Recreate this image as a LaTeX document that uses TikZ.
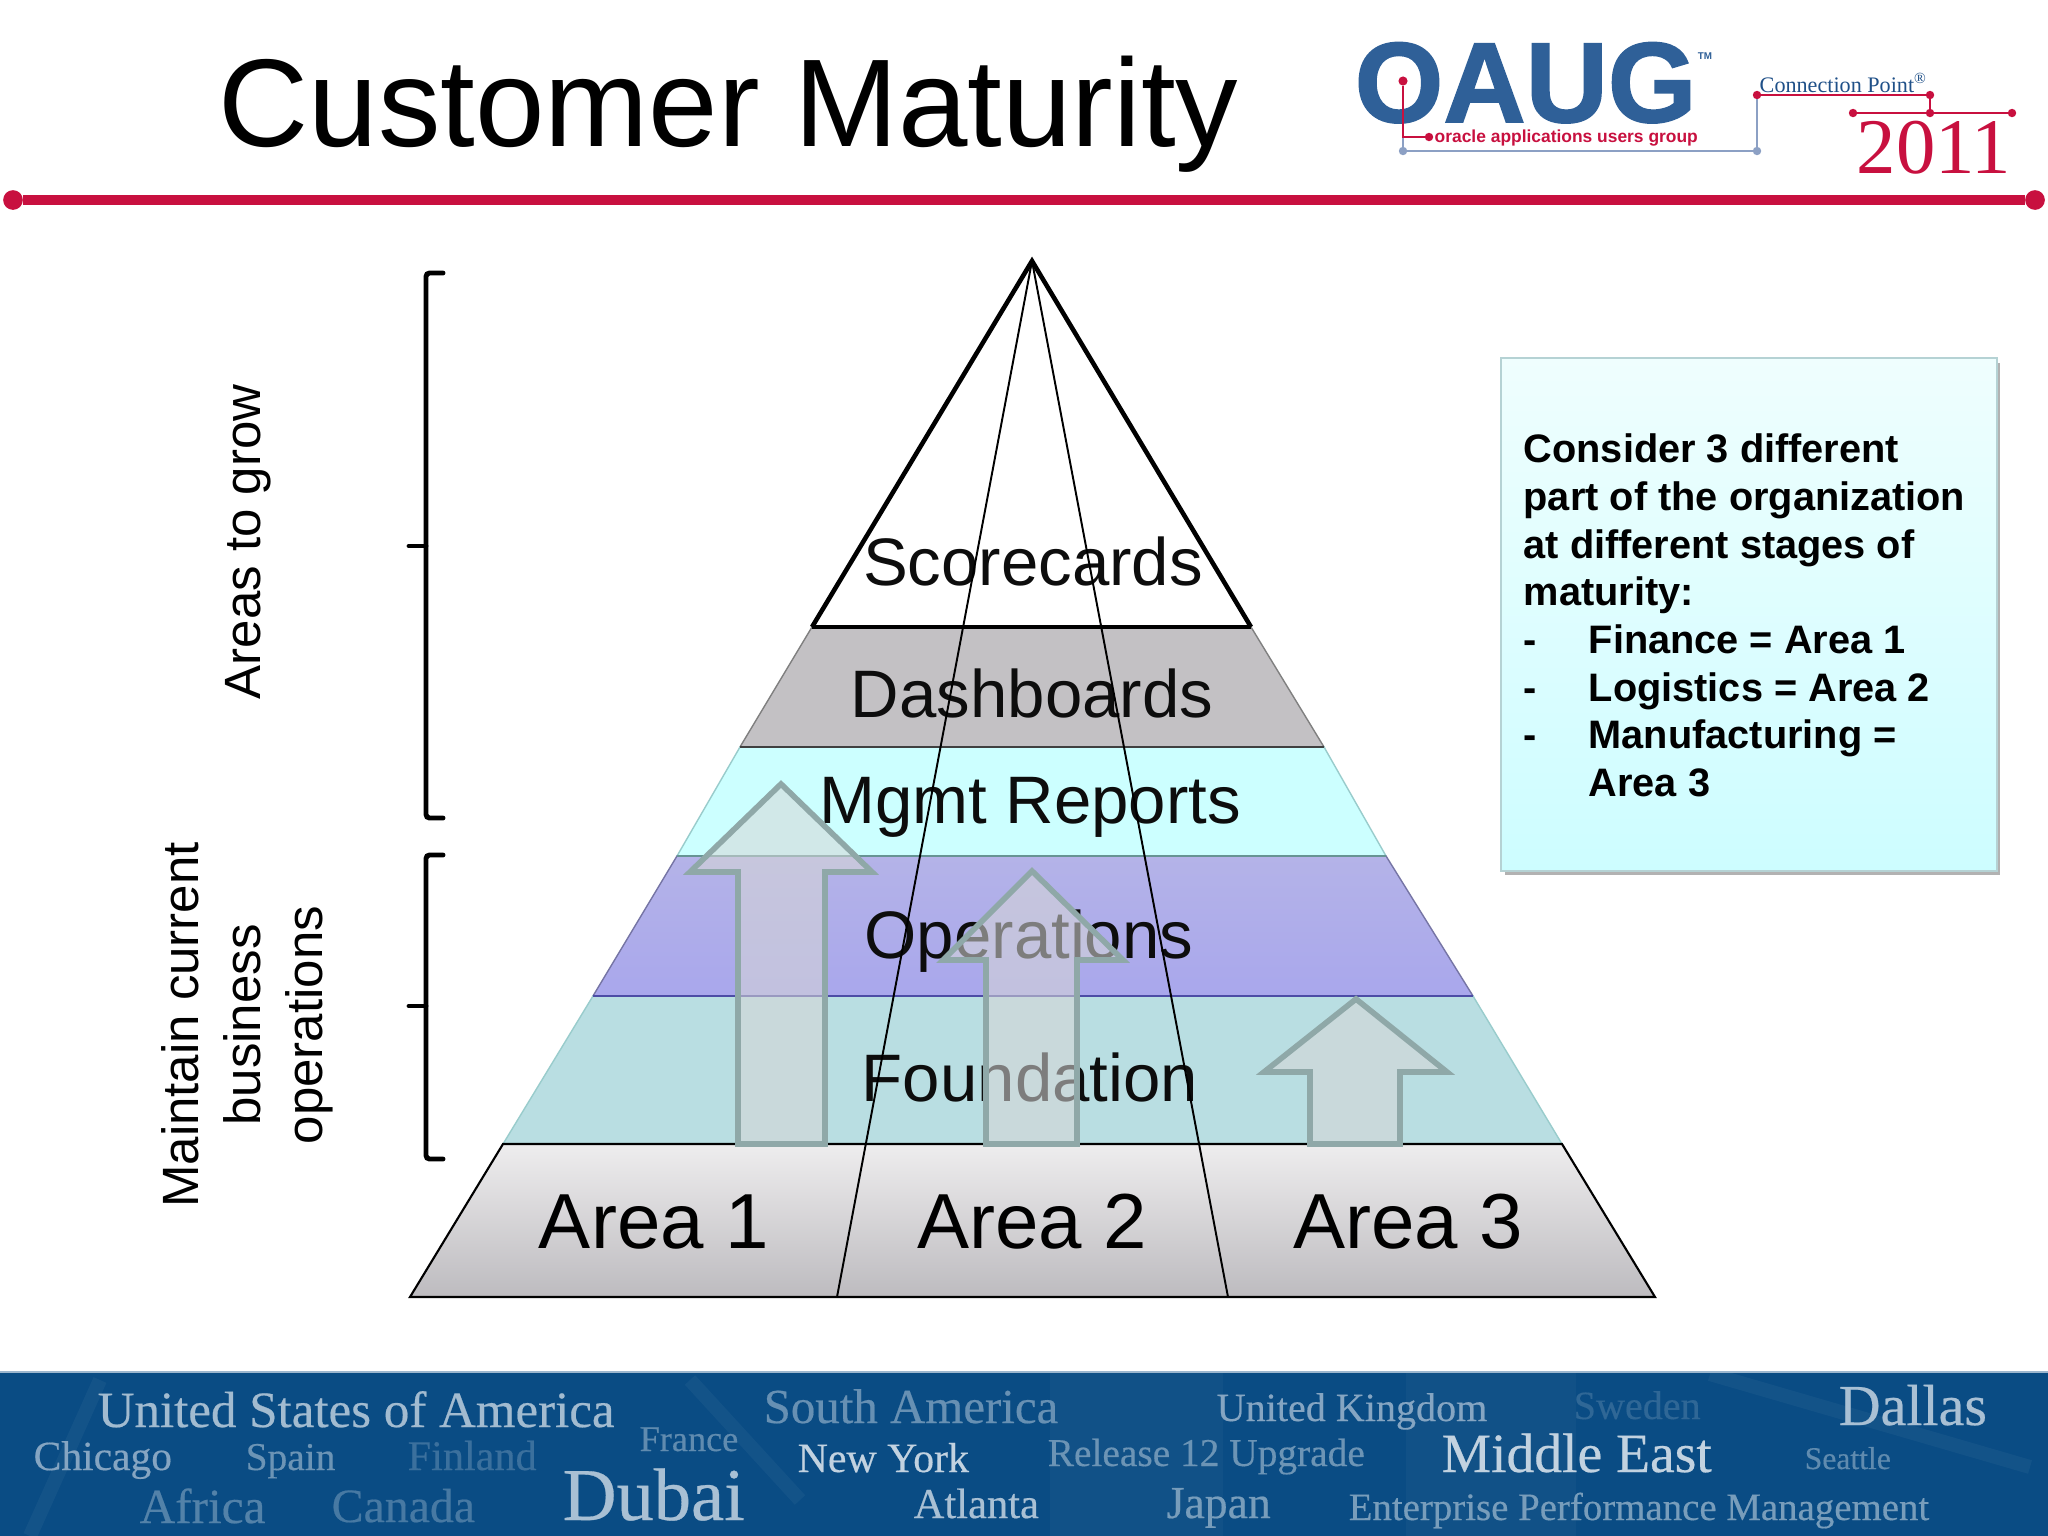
\documentclass[tikz,border=0pt]{standalone}
\usepackage{fontspec}
\setmainfont{Liberation Sans}
\newfontfamily\bandfont[FakeBold=0.4]{Liberation Serif}
\newfontfamily\yearfont{Liberation Serif}
\newfontfamily\logofont[FakeBold=1.5]{Liberation Sans Bold}
\usepackage{tikz}

\definecolor{crimson}{HTML}{C8103F}
\definecolor{oaugblue}{HTML}{2F6098}
\definecolor{pointblue}{HTML}{1F5088}
\definecolor{slateblue}{HTML}{8CA0C4}
\definecolor{bandblue}{HTML}{0A4C84}
\definecolor{arrowedge}{HTML}{8FA8A8}
\definecolor{arrowfill}{HTML}{D6D6D6}
\definecolor{noteedge}{HTML}{B5D2D4}
\definecolor{notetop}{HTML}{EFFEFE}
\definecolor{notebottom}{HTML}{CDFDFF}
\definecolor{dashfill}{HTML}{C3C1C4}
\definecolor{mgmtfill}{HTML}{CCFFFF}
\definecolor{opstop}{HTML}{B4B3E8}
\definecolor{opsbottom}{HTML}{A9A7EC}
\definecolor{foundfill}{HTML}{B9DEE2}
\definecolor{areatop}{HTML}{EEEDEE}
\definecolor{areabottom}{HTML}{BDBBBF}

\tikzset{
  tier/.style={line width=0.4pt},
  divider/.style={line width=0.7pt},
  growarrow/.style={draw=arrowedge,line width=1.6pt,fill=arrowfill,fill opacity=0.56,miter limit=10},
  slice/.style={draw=black,line width=0.55pt},
  bracket/.style={draw=black,line width=1.4pt,line cap=round,rounded corners=1pt},
  tierlabel/.style={font=\fontsize{19.1}{19.1}\selectfont,text=black!95,anchor=base,inner sep=0},
  arealabel/.style={font=\fontsize{22.2}{22.2}\selectfont,anchor=base,inner sep=0},
  sidelabel/.style={font=\fontsize{14.5}{17.6}\selectfont,rotate=90,align=center,inner sep=0},
  noteline/.style={font=\fontsize{11.3}{11.3}\selectfont\bfseries,anchor=base west,inner sep=0},
  bandword/.style={inner sep=0,anchor=base west},
  reddot/.style={circle,fill=crimson,inner sep=0,outer sep=0,minimum size=2.4pt},
  bluedot/.style={circle,fill=slateblue,inner sep=0,outer sep=0,minimum size=2.4pt},
  redline/.style={draw=crimson,line width=0.5pt},
  blueline/.style={draw=slateblue,line width=0.6pt},
  bandmark/.style={draw=white,opacity=0.04,line width=4pt}
}

\begin{document}
\begin{tikzpicture}[x=0.01cm,y=-0.01cm]
\useasboundingbox (0,0) rectangle (2048,1536);
\fill[white] (0,0) rectangle (2048,1536);

% Title and rule
\node (title) [anchor=base west,inner sep=0,font=\fontsize{35.5}{35.5}\selectfont] at (218,146) {Customer Maturity};
\node (ruleleft) [reddot,minimum size=5.6pt] at (13,200) {};
\node (ruleright) [reddot,minimum size=5.6pt] at (2035,200) {};
\draw[crimson,line width=2.6pt] (ruleleft) -- (ruleright);

% Logo
\node (oaug) [anchor=base west,inner sep=0,text=oaugblue,font=\logofont\fontsize{32.4}{32.4}\selectfont] at (1354,122) {OAUG};
\node (tm) [inner sep=0,text=oaugblue,font=\fontsize{2.8}{2.8}\selectfont\bfseries] at (1705,56) {TM};
\node (ringdot) [circle,fill=white,inner sep=0,minimum size=5pt] at (1403,81) {};
\node (ringred) [reddot,minimum size=2.6pt] at (1403,81) {};
\node (wordsdot) [reddot] at (1429,137) {};
\node (cornerdot) [bluedot] at (1403,151) {};
\node (risedot) [bluedot] at (1757,151) {};
\node (connectdot) [reddot] at (1757,95) {};
\node (pointdot) [reddot] at (1930,95) {};
\node (yearleft) [reddot] at (1853,113) {};
\node (yearmid) [reddot] at (1930,113) {};
\node (yearright) [reddot] at (2012,113) {};
\draw[blueline] (ringred) -- (cornerdot) -- (risedot) -- (connectdot);
\draw[redline] (ringred) |- (wordsdot);
\draw[redline] (connectdot) -- (pointdot) -- (yearmid);
\draw[redline] (yearleft) -- (yearright);
\node (users) [anchor=base west,inner sep=0,text=crimson,font=\fontsize{4.95}{4.95}\selectfont\bfseries] at (1434,142) {oracle applications users group};
\node (connection) [anchor=base west,inner sep=0,text=pointblue,font=\yearfont\fontsize{6.3}{6.3}\selectfont] at (1759,92) {Connection Point\textsuperscript{®}};
\node (year) [anchor=base west,inner sep=0,text=crimson,font=\yearfont\fontsize{22.4}{22.4}\selectfont] at (1856,173) {2011};

% Side brackets
\draw[bracket] (443,273) -- (426,273) -- (426,818) -- (443,818);
\draw[bracket] (409,546) -- (426,546);
\draw[bracket] (443,855) -- (426,855) -- (426,1159) -- (443,1159);
\draw[bracket] (409,1006) -- (426,1006);
\node (grow) [sidelabel,anchor=base] at (260,542) {Areas to grow};
\node (maintain) [sidelabel] at (247,1025) {Maintain current\\business\\operations};

% Pyramid
\draw[tier,fill=dashfill,draw=black!50] (812,627) -- (1251,627) -- (1324,747) -- (740,747) -- cycle;
\draw[tier,fill=mgmtfill,draw=teal!40] (740,747) -- (1324,747) -- (1386,856) -- (677,856) -- cycle;
\draw[tier,top color=opstop,bottom color=opsbottom,draw=opsbottom!70!black] (677,856) -- (1386,856) -- (1473,996) -- (593,996) -- cycle;
\draw[tier,fill=foundfill,draw=teal!40] (593,996) -- (1473,996) -- (1562,1144) -- (503,1144) -- cycle;
\draw[tier,top color=areatop,bottom color=areabottom,draw=black,line width=0.6pt] (503,1144) -- (1562,1144) -- (1655,1297) -- (410,1297) -- cycle;
\draw[line width=1.3pt,line join=miter] (812,627) -- (1032,261) -- (1251,627);
\draw[divider,line width=1.4pt] (812,627) -- (1251,627);
\draw[divider,black!75] (740,747) -- (1324,747);
\draw[divider,teal!60!black!60] (677,856) -- (1386,856);
\draw[divider,blue!50!black!70] (593,996) -- (1473,996);

% Labels on the tiers
\node (scorecards) [tierlabel] at (1033,585) {Scorecards};
\node (dashboards) [tierlabel] at (1032,717) {Dashboards};
\node (mgmt) [tierlabel] at (1030,823) {Mgmt Reports};
\node (operations) [tierlabel] at (1029,958) {Operations};
\node (foundation) [tierlabel] at (1030,1101) {Foundation};
\node (area1) [arealabel] at (654,1248) {Area 1};
\node (area2) [arealabel] at (1032,1248) {Area 2};
\node (area3) [arealabel] at (1408,1248) {Area 3};

% Growth arrows
\draw[growarrow] (781,784) -- (872,872) -- (825,872) -- (825,1144) -- (738,1144) -- (738,872) -- (690,872) -- cycle;
\draw[growarrow] (1032,871) -- (1123,960) -- (1077,960) -- (1077,1144) -- (986,1144) -- (986,960) -- (943,960) -- cycle;
\draw[growarrow] (1356,999) -- (1447,1072) -- (1400,1072) -- (1400,1144) -- (1310,1144) -- (1310,1072) -- (1264,1072) -- cycle;

% Slices from the apex
\draw[slice] (1032,261) -- (837,1297);
\draw[slice] (1032,261) -- (1228,1297);

% Note
\fill[black!30] (1505,363) rectangle (2000,875);
\draw[top color=notetop,bottom color=notebottom,draw=noteedge,line width=0.5pt] (1501,358) rectangle (1997,871);
\node (n1) [noteline] at (1523,462) {Consider 3 different};
\node (n2) [noteline] at (1523,510) {part of the organization};
\node (n3) [noteline] at (1523,558) {at different stages of};
\node (n4) [noteline] at (1523,605) {maturity:};
\node (n5) [noteline] at (1523,653) {-};
\node (n5b) [noteline] at (1588,653) {Finance = Area 1};
\node (n6) [noteline] at (1523,701) {-};
\node (n6b) [noteline] at (1588,701) {Logistics = Area 2};
\node (n7) [noteline] at (1523,748) {-};
\node (n7b) [noteline] at (1588,748) {Manufacturing =};
\node (n8) [noteline] at (1588,796) {Area 3};

% Bottom band
\fill[bandblue] (0,1372) rectangle (2048,1536);
\fill[white,opacity=0.03] (1050,1373) rectangle (1223,1536);
\fill[white,opacity=0.03] (1406,1373) rectangle (1576,1536);
\draw[bandmark] (1710,1374) -- (2030,1467);
\draw[bandmark] (100,1380) -- (30,1536);
\draw[bandmark] (690,1380) -- (800,1500);
\draw[white!60!bandblue,line width=0.3pt] (0,1372) -- (2048,1372);
\node (w1) [bandword,text=white!62!bandblue,font=\bandfont\fontsize{14.5}{14.5}\selectfont] at (97,1427) {United States of America};
\node (w2) [bandword,text=white!50!bandblue,font=\bandfont\fontsize{11.8}{11.8}\selectfont] at (33,1470) {Chicago};
\node (w3) [bandword,text=white!40!bandblue,font=\bandfont\fontsize{11.2}{11.2}\selectfont] at (245,1470) {Spain};
\node (w4) [bandword,text=white!20!bandblue,font=\bandfont\fontsize{12}{12}\selectfont] at (407,1470) {Finland};
\node (w5) [bandword,text=white!35!bandblue,font=\bandfont\fontsize{10.3}{10.3}\selectfont] at (639,1451) {France};
\node (w6) [bandword,text=white!30!bandblue,font=\bandfont\fontsize{14}{14}\selectfont] at (139,1523) {Africa};
\node (w7) [bandword,text=white!25!bandblue,font=\bandfont\fontsize{13.6}{13.6}\selectfont] at (331,1522) {Canada};
\node (w8) [bandword,text=white!65!bandblue,font=\bandfont\fontsize{21.2}{21.2}\selectfont] at (562,1520) {Dubai};
\node (w9) [bandword,text=white!38!bandblue,font=\bandfont\fontsize{13.9}{13.9}\selectfont] at (763,1423) {South America};
\node (w10) [bandword,text=white!75!bandblue,font=\bandfont\fontsize{11.9}{11.9}\selectfont] at (797,1472) {New York};
\node (w11) [bandword,text=white!65!bandblue,font=\bandfont\fontsize{12.1}{12.1}\selectfont] at (913,1518) {Atlanta};
\node (w12) [bandword,text=white!40!bandblue,font=\bandfont\fontsize{11.2}{11.2}\selectfont] at (1047,1466) {Release 12 Upgrade};
\node (w13) [bandword,text=white!45!bandblue,font=\bandfont\fontsize{13}{13}\selectfont] at (1166,1518) {Japan};
\node (w14) [bandword,text=white!50!bandblue,font=\bandfont\fontsize{11.4}{11.4}\selectfont] at (1216,1421) {United Kingdom};
\node (w15) [bandword,text=white!15!bandblue,font=\bandfont\fontsize{11.4}{11.4}\selectfont] at (1573,1419) {Sweden};
\node (w16) [bandword,text=white!65!bandblue,font=\bandfont\fontsize{16.5}{16.5}\selectfont] at (1838,1425) {Dallas};
\node (w17) [bandword,text=white!75!bandblue,font=\bandfont\fontsize{15.8}{15.8}\selectfont] at (1441,1472) {Middle East};
\node (w18) [bandword,text=white!35!bandblue,font=\bandfont\fontsize{9}{9}\selectfont] at (1804,1469) {Seattle};
\node (w19) [bandword,text=white!45!bandblue,font=\bandfont\fontsize{11.05}{11.05}\selectfont] at (1348,1520) {Enterprise Performance Management};
\end{tikzpicture}
\end{document}
